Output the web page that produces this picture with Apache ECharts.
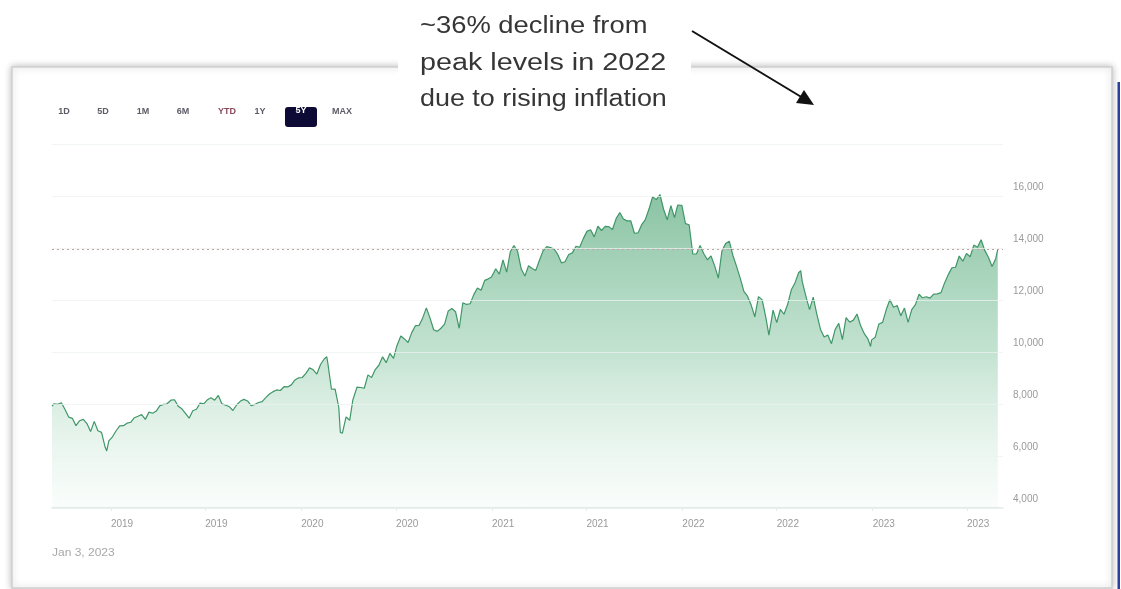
<!DOCTYPE html>
<html>
<head>
<meta charset="utf-8">
<script src="https://cdn.jsdelivr.net/npm/echarts@6/dist/echarts.min.js"></script>
<style>
  html, body { margin: 0; padding: 0; background: #ffffff; }
  #chart { width: 1121px; height: 589px; }
</style>
</head>
<body>
<div id="chart"></div>
<script>
// NASDAQ Composite, 5-year view (weekly closes plus the main turning points)
const dates = [
  // 2018
  '2018-09-10','2018-09-14','2018-09-21','2018-09-28','2018-10-05','2018-10-12','2018-10-19','2018-10-26',
  '2018-11-02','2018-11-09','2018-11-16','2018-11-23','2018-11-30','2018-12-07','2018-12-14','2018-12-21',
  '2018-12-24','2018-12-28',
  // 2019
  '2019-01-04','2019-01-11','2019-01-18','2019-01-25','2019-02-01','2019-02-08','2019-02-15','2019-02-22',
  '2019-03-01','2019-03-08','2019-03-15','2019-03-22','2019-03-29','2019-04-05','2019-04-12','2019-04-18',
  '2019-04-26','2019-05-03','2019-05-10','2019-05-17','2019-05-24','2019-05-31','2019-06-07','2019-06-14',
  '2019-06-21','2019-06-28','2019-07-05','2019-07-12','2019-07-19','2019-07-26','2019-08-02','2019-08-09',
  '2019-08-16','2019-08-23','2019-08-30','2019-09-06','2019-09-13','2019-09-20','2019-09-27','2019-10-04',
  '2019-10-11','2019-10-18','2019-10-25','2019-11-01','2019-11-08','2019-11-15','2019-11-22','2019-11-29',
  '2019-12-06','2019-12-13','2019-12-20','2019-12-27',
  // 2020
  '2020-01-03','2020-01-10','2020-01-17','2020-01-24','2020-01-31','2020-02-07','2020-02-14','2020-02-19',
  '2020-02-21','2020-02-28','2020-03-06','2020-03-13','2020-03-16','2020-03-20','2020-03-23','2020-03-27',
  '2020-04-03','2020-04-09','2020-04-17','2020-04-24','2020-05-01','2020-05-08','2020-05-15','2020-05-22',
  '2020-05-29','2020-06-05','2020-06-12','2020-06-19','2020-06-26','2020-07-02','2020-07-10','2020-07-17',
  '2020-07-24','2020-07-31','2020-08-07','2020-08-14','2020-08-21','2020-08-28','2020-09-04','2020-09-11',
  '2020-09-18','2020-09-25','2020-10-02','2020-10-09','2020-10-16','2020-10-23','2020-10-30','2020-11-06',
  '2020-11-13','2020-11-20','2020-11-27','2020-12-04','2020-12-11','2020-12-18','2020-12-24','2020-12-31',
  // 2021
  '2021-01-08','2021-01-15','2021-01-22','2021-01-29','2021-02-05','2021-02-12','2021-02-19','2021-02-26',
  '2021-03-05','2021-03-12','2021-03-19','2021-03-26','2021-04-01','2021-04-09','2021-04-16','2021-04-23',
  '2021-04-30','2021-05-07','2021-05-14','2021-05-21','2021-05-28','2021-06-04','2021-06-11','2021-06-18',
  '2021-06-25','2021-07-02','2021-07-09','2021-07-16','2021-07-23','2021-07-30','2021-08-06','2021-08-13',
  '2021-08-20','2021-08-27','2021-09-03','2021-09-10','2021-09-17','2021-09-24','2021-10-01','2021-10-08',
  '2021-10-15','2021-10-22','2021-10-29','2021-11-05','2021-11-12','2021-11-19','2021-11-26','2021-12-03',
  '2021-12-10','2021-12-17','2021-12-23','2021-12-31',
  // 2022
  '2022-01-07','2022-01-14','2022-01-21','2022-01-28','2022-02-04','2022-02-11','2022-02-18','2022-02-25',
  '2022-03-04','2022-03-11','2022-03-18','2022-03-25','2022-04-01','2022-04-08','2022-04-14','2022-04-22',
  '2022-04-29','2022-05-06','2022-05-13','2022-05-20','2022-05-27','2022-06-03','2022-06-10','2022-06-16',
  '2022-06-24','2022-07-01','2022-07-08','2022-07-15','2022-07-22','2022-07-29','2022-08-05','2022-08-12',
  '2022-08-16','2022-08-19','2022-08-26','2022-09-02','2022-09-09','2022-09-16','2022-09-23','2022-09-30',
  '2022-10-07','2022-10-14','2022-10-21','2022-10-28','2022-11-04','2022-11-11','2022-11-18','2022-11-25',
  '2022-12-02','2022-12-09','2022-12-16','2022-12-23','2022-12-28','2022-12-30',
  // 2023
  '2023-01-06','2023-01-13','2023-01-20','2023-01-27','2023-02-03','2023-02-10','2023-02-17','2023-02-24',
  '2023-03-03','2023-03-10','2023-03-17','2023-03-24','2023-03-31','2023-04-06','2023-04-14','2023-04-21',
  '2023-04-28','2023-05-05','2023-05-12','2023-05-19','2023-05-26','2023-06-02','2023-06-09','2023-06-16',
  '2023-06-23','2023-06-30','2023-07-07','2023-07-14','2023-07-21','2023-07-28','2023-08-04','2023-08-11',
  '2023-08-18','2023-08-25','2023-08-29'
];
const closes = [
  // 2018
  7924, 8010, 7987, 8046, 7788, 7497, 7449, 7167,
  7357, 7407, 7247, 6939, 7331, 6969, 6910, 6333,
  6193, 6584,
  // 2019
  6739, 6971, 7157, 7165, 7263, 7298, 7472, 7527,
  7595, 7408, 7688, 7643, 7729, 7939, 7984, 7998,
  8146, 8164, 7917, 7816, 7637, 7453, 7742, 7797,
  8032, 8006, 8162, 8244, 8146, 8330, 8004, 7959,
  7896, 7751, 7963, 8103, 8177, 8118, 7940, 7982,
  8057, 8090, 8243, 8386, 8475, 8541, 8520, 8665,
  8656, 8735, 8925, 9006,
  // 2020
  9020, 9179, 9389, 9315, 9151, 9520, 9731, 9817,
  9577, 8567, 8576, 7875, 6904, 6880, 6860, 7502,
  7373, 8154, 8650, 8634, 8605, 9121, 9015, 9325,
  9490, 9815, 9589, 9946, 9757, 10208, 10617, 10503,
  10363, 10745, 11011, 11019, 11312, 11696, 11313, 10854,
  10793, 10913, 11075, 11580, 11672, 11548, 10912, 11895,
  11830, 11855, 12206, 12464, 12378, 12756, 12805, 12888,
  // 2021
  13202, 12998, 13543, 13070, 13856, 14095, 13874, 13192,
  12920, 13320, 13215, 13138, 13480, 13900, 14052, 14016,
  13962, 13752, 13430, 13471, 13749, 13814, 14069, 14030,
  14360, 14639, 14701, 14428, 14837, 14673, 14835, 14822,
  14714, 15129, 15363, 15115, 15044, 15048, 14567, 14580,
  14897, 15090, 15498, 15971, 15861, 16057, 15491, 15085,
  15630, 15170, 15653, 15645,
  // 2022
  14936, 14894, 13769, 13770, 14098, 13791, 13548, 13694,
  13313, 12843, 13894, 14169, 14261, 13711, 13351, 12839,
  12335, 12145, 11805, 11355, 12131, 12013, 11340, 10646,
  11608, 11128, 11635, 11452, 11834, 12391, 12657, 13047,
  13128, 12705, 12141, 11631, 12112, 11448, 10868, 10576,
  10652, 10321, 10860, 11102, 10476, 11324, 11146, 11226,
  11462, 11005, 10705, 10498, 10214, 10466,
  // 2023
  10569, 11079, 11141, 11622, 12007, 11718, 11787, 11395,
  11689, 11139, 11631, 11824, 12222, 12088, 12124, 12073,
  12227, 12235, 12285, 12658, 12976, 13241, 13259, 13690,
  13492, 13788, 13661, 14113, 14032, 14316, 13909, 13645,
  13291, 13590, 13943
];
const previousClose = 13943;
const axisStart = '2018-09-10';
const axisEnd = '2023-09-08';
const yTicks = [4000, 6000, 8000, 10000, 12000, 14000, 16000, 18000];
const xLabelDates = [
  '2019-01-01', '2019-07-01', '2020-01-01', '2020-07-01', '2021-01-01',
  '2021-07-01', '2022-01-01', '2022-07-01', '2023-01-01', '2023-07-01'
];
const rangeButtons = ['1D', '5D', '1M', '6M', 'YTD', '1Y', '5Y', 'MAX'];
const activeRange = '5Y';
const noteLines = ['~36% decline from', 'peak levels in 2022', 'due to rising inflation'];
const dateStamp = 'Jan 3, 2023';

// Dates become UTC timestamps on a numeric axis
const ts = s => Date.parse(s + 'T00:00:00Z');
const seriesData = dates.map((d, i) => [ts(d), closes[i]]);
const xLabelValues = xLabelDates.map(ts);

const chart = echarts.init(document.getElementById('chart'), null, { renderer: 'canvas' });

const FONT = 'Liberation Sans, Arial, sans-serif';

// Card frame, range selector, note and arrow
const buttonX = [64, 103, 143, 183, 227, 260, 301, 342];
const graphics = [
  {
    type: 'rect', z: -20, silent: true,
    shape: { x: 12, y: 67, width: 1100, height: 521 },
    style: { fill: '#ffffff', stroke: '#cfcfcf', lineWidth: 1.5,
             shadowBlur: 7, shadowColor: 'rgba(0,0,0,0.25)', shadowOffsetX: 0, shadowOffsetY: 0 }
  },
  {
    type: 'rect', z: -15, silent: true,
    shape: { x: 398, y: 0, width: 293, height: 124 },
    style: { fill: '#ffffff' }
  },
  {
    type: 'rect', z: 50, silent: true,
    shape: { x: 1117.5, y: 82, width: 2.5, height: 507 },
    style: { fill: '#2b3f9e' }
  }
];
rangeButtons.forEach((b, i) => {
  if (b === activeRange) {
    graphics.push({
      type: 'rect', z: 40, silent: true,
      shape: { x: buttonX[i] - 16, y: 107, width: 32, height: 20, r: 3 },
      style: { fill: '#0d0b36' }
    });
  }
  graphics.push({
    type: 'text', z: 41, silent: true,
    x: buttonX[i], y: b === activeRange ? 111 : 112,
    style: {
      text: b, fontSize: 9, fontWeight: 'bold', fontFamily: FONT,
      fill: b === activeRange ? '#ffffff' : (b === 'YTD' ? '#8a4a5c' : '#5c5c66'),
      align: 'center', verticalAlign: 'middle'
    }
  });
});
// Horizontally stretched note, one line per entry
const noteY = [27, 64, 100];
const noteStretch = [1.19, 1.25, 1.17];
noteLines.forEach((t, i) => {
  graphics.push({
    type: 'text', z: 60, silent: true,
    x: 420, y: noteY[i], scaleX: noteStretch[i], originX: 0, originY: 0,
    style: {
      text: t, fontSize: 23, fontFamily: FONT,
      fill: '#363636', align: 'left', verticalAlign: 'middle'
    }
  });
});
graphics.push({
  type: 'line', z: 60, silent: true,
  shape: { x1: 692, y1: 31, x2: 803, y2: 98 },
  style: { stroke: '#111111', lineWidth: 2 }
});
graphics.push({
  type: 'polygon', z: 60, silent: true,
  shape: { points: [[814, 105], [796, 103], [804, 90]] },
  style: { fill: '#111111' }
});
graphics.push({
  type: 'text', z: 41, silent: true,
  x: 52, y: 553, scaleX: 1.2, originX: 0, originY: 0,
  style: { text: dateStamp, fontSize: 10, fontFamily: FONT,
           fill: '#a8a8a8', align: 'left', verticalAlign: 'middle' }
});

chart.setOption({
  animation: false,
  backgroundColor: '#ffffff',
  textStyle: { fontFamily: FONT },
  grid: { left: 52, right: 118, top: 144, bottom: 81, containLabel: false },
  graphic: graphics,
  xAxis: {
    type: 'value',
    min: ts(axisStart),
    max: ts(axisEnd),
    axisLine: { show: true, lineStyle: { color: '#dde8e6', width: 1.5 } },
    axisTick: { show: true, customValues: xLabelValues, length: 3, lineStyle: { color: '#e4ecea' } },
    splitLine: { show: false },
    axisLabel: {
      customValues: xLabelValues,
      formatter: v => String(new Date(v).getUTCFullYear()),
      color: '#9a9a9a', fontSize: 10, margin: 11, align: 'left'
    }
  },
  yAxis: {
    type: 'value',
    position: 'right',
    z: 3,
    min: yTicks[0],
    max: yTicks[yTicks.length - 1],
    interval: 2000,
    axisLine: { show: false },
    axisTick: { show: false },
    splitLine: { show: true, lineStyle: { color: 'rgba(236,242,240,0.75)', width: 1 } },
    axisLabel: {
      formatter: v => (v === yTicks[yTicks.length - 1] ? '' : v.toLocaleString('en-US')),
      color: '#9a9a9a', fontSize: 10, margin: 10,
      verticalAlign: 'bottom', lineHeight: 12, padding: [0, 0, 3, 0]
    }
  },
  series: [{
    type: 'line',
    data: seriesData,
    symbol: 'none',
    smooth: false,
    z: 2,
    lineStyle: { color: '#3f9667', width: 1.2 },
    areaStyle: {
      color: new echarts.graphic.LinearGradient(0, 0, 0, 1, [
        { offset: 0, color: 'rgba(70,160,110,0.9)' },
        { offset: 0.5, color: 'rgba(98,180,134,0.55)' },
        { offset: 1, color: 'rgba(175,222,196,0.1)' }
      ])
    },
    markLine: {
      silent: true,
      symbol: 'none',
      label: { show: false },
      lineStyle: { color: '#c3a0a0', type: [2, 3], width: 1 },
      data: [{ yAxis: previousClose }]
    }
  }]
});
</script>
</body>
</html>
